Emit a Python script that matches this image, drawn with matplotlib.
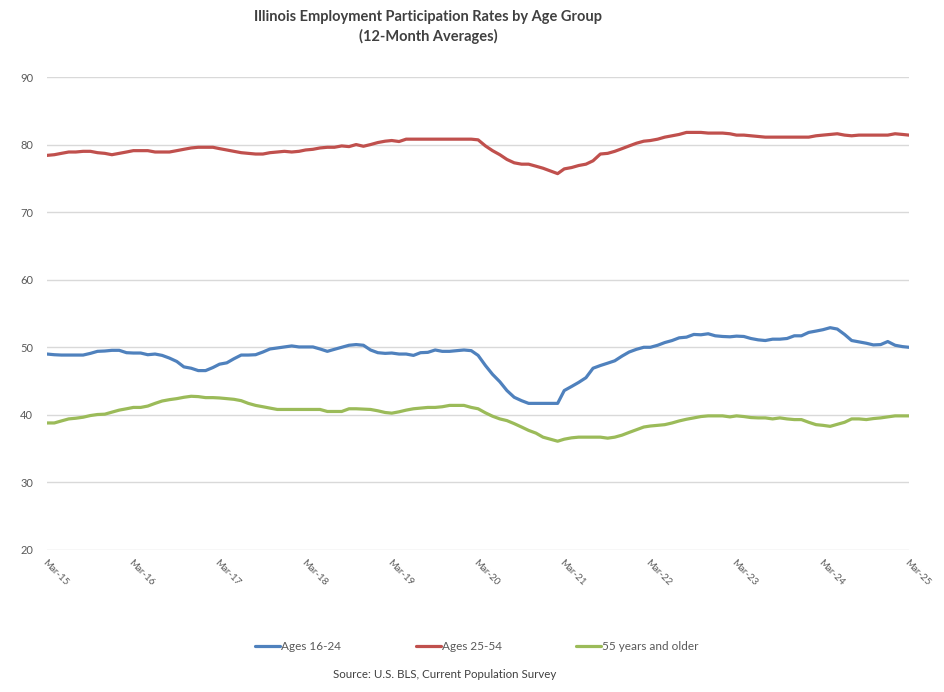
import numpy as np
import pandas as pd
import matplotlib
matplotlib.use('Agg')
import matplotlib.pyplot as plt

plt.rcParams['font.family'] = ['Lato', 'DejaVu Sans']

niceblu = "#4F81BD"
nicered = "#C0504D"
nicegrn = "#9BBB59"
txtgray = "#595959"

# monthly 12-month averages, Mar-2015 .. Mar-2025
months = pd.date_range('2015-03-01', '2025-03-01', freq='MS')

ages_16_24 = [
    49.0, 48.9, 48.85, 48.85, 48.85, 48.85, 49.1, 49.4, 49.45, 49.55, 49.55, 49.2,
    49.15, 49.15, 48.9, 49.0, 48.8, 48.4, 47.9, 47.1, 46.9, 46.55, 46.55, 47.0,
    47.5, 47.7, 48.3, 48.85, 48.85, 48.9, 49.3, 49.75, 49.9, 50.05, 50.2, 50.05,
    50.05, 50.05, 49.75, 49.4, 49.7, 50.0, 50.3, 50.4, 50.3, 49.6, 49.2, 49.1,
    49.15, 49.0, 49.0, 48.8, 49.2, 49.25, 49.6, 49.4, 49.4, 49.5, 49.6, 49.5,
    48.8, 47.3, 46.0, 44.9, 43.6, 42.6, 42.1, 41.7, 41.7, 41.7, 41.7, 41.7,
    43.6, 44.2, 44.8, 45.5, 46.9, 47.3, 47.65, 48.0, 48.7, 49.3, 49.7, 50.0,
    50.0, 50.3, 50.7, 51.0, 51.4, 51.5, 51.9, 51.85, 52.0, 51.7, 51.6, 51.55,
    51.65, 51.6, 51.3, 51.1, 51.0, 51.2, 51.2, 51.3, 51.7, 51.7, 52.2, 52.4,
    52.6, 52.9, 52.7, 51.9, 51.0, 50.8, 50.6, 50.35, 50.4, 50.85, 50.3, 50.1,
    50.0]

ages_25_54 = [
    78.4, 78.5, 78.7, 78.9, 78.9, 79.0, 79.0, 78.8, 78.7, 78.5, 78.7, 78.9,
    79.1, 79.1, 79.1, 78.9, 78.9, 78.9, 79.1, 79.3, 79.5, 79.6, 79.6, 79.6,
    79.4, 79.2, 79.0, 78.8, 78.7, 78.6, 78.6, 78.8, 78.9, 79.0, 78.9, 79.0,
    79.2, 79.3, 79.5, 79.6, 79.6, 79.8, 79.7, 80.0, 79.75, 80.0, 80.3, 80.5,
    80.6, 80.45, 80.8, 80.8, 80.8, 80.8, 80.8, 80.8, 80.8, 80.8, 80.8, 80.8,
    80.7, 79.8, 79.1, 78.5, 77.8, 77.3, 77.1, 77.1, 76.8, 76.5, 76.1, 75.7,
    76.4, 76.6, 76.9, 77.1, 77.6, 78.6, 78.7, 79.0, 79.4, 79.8, 80.2, 80.5,
    80.6, 80.8, 81.1, 81.3, 81.5, 81.8, 81.8, 81.8, 81.7, 81.7, 81.7, 81.6,
    81.4, 81.4, 81.3, 81.2, 81.1, 81.1, 81.1, 81.1, 81.1, 81.1, 81.1, 81.3,
    81.4, 81.5, 81.6, 81.4, 81.3, 81.4, 81.4, 81.4, 81.4, 81.4, 81.6, 81.5,
    81.4]

ages_55_plus = [
    38.8, 38.8, 39.1, 39.4, 39.5, 39.65, 39.9, 40.05, 40.1, 40.4, 40.7, 40.9,
    41.1, 41.1, 41.3, 41.7, 42.05, 42.25, 42.4, 42.6, 42.75, 42.7, 42.55, 42.55,
    42.5, 42.4, 42.3, 42.1, 41.7, 41.4, 41.2, 41.0, 40.8, 40.8, 40.8, 40.8,
    40.8, 40.8, 40.8, 40.5, 40.5, 40.5, 40.9, 40.9, 40.85, 40.8, 40.6, 40.35,
    40.25, 40.45, 40.7, 40.9, 41.0, 41.1, 41.1, 41.2, 41.4, 41.4, 41.4, 41.1,
    40.9, 40.3, 39.8, 39.4, 39.15, 38.7, 38.2, 37.7, 37.3, 36.7, 36.4, 36.1,
    36.4, 36.6, 36.7, 36.7, 36.7, 36.7, 36.55, 36.7, 37.0, 37.4, 37.8, 38.2,
    38.35, 38.45, 38.55, 38.8, 39.1, 39.35, 39.55, 39.75, 39.85, 39.85, 39.85, 39.7,
    39.85, 39.75, 39.6, 39.55, 39.55, 39.4, 39.55, 39.4, 39.3, 39.3, 38.9, 38.55,
    38.45, 38.3, 38.6, 38.9, 39.4, 39.4, 39.3, 39.45, 39.55, 39.7, 39.85, 39.85,
    39.85]

series_names = ['Ages 16-24', 'Ages 25-54', '55 years and older']
yticks = [20, 30, 40, 50, 60, 70, 80, 90]

fig = plt.figure(figsize=(9.45, 6.92), dpi=100)
ax = fig.add_axes([47/945, 1-550/692, (909-47)/945, (550-77)/692])

for vals, col, name in zip([ages_16_24, ages_25_54, ages_55_plus],
                           [niceblu, nicered, nicegrn], series_names):
    ax.plot(months, vals, color=col, lw=2.3, label=name, solid_capstyle='round')

ax.set_ylim(20, 90)
ax.set_xlim(months[0], months[-1])
ax.set_yticks(yticks)
ax.grid(axis='y', color='#D9D9D9', lw=1)
ax.set_axisbelow(True)
for s in ax.spines.values():
    s.set_visible(False)

xt = months[::12]
ax.set_xticks(xt)
ax.set_xticklabels([d.strftime('%b-%y') for d in xt], rotation=-45,
                   ha='left', va='top', rotation_mode='anchor')
ax.tick_params(axis='both', length=0, colors=txtgray)
ax.tick_params(axis='y', pad=10, labelsize=8)
ax.tick_params(axis='x', pad=6, labelsize=7)

fig.text(428/945, 1-17/692, 'Illinois Employment Participation Rates by Age Group',
         ha='center', va='center', fontsize=10.5, fontweight='bold', color='#404040')
fig.text(428/945, 1-36/692, '(12-Month Averages)',
         ha='center', va='center', fontsize=10.5, fontweight='bold', color='#404040')

fig.legend(loc='center', bbox_to_anchor=(477/945, 1-647/692), ncol=3,
           frameon=False, fontsize=8.5, handlelength=2.1, handletextpad=0.1,
           columnspacing=6.3, labelcolor=txtgray)

fig.text(445/945, 1-675/692, 'Source: U.S. BLS, Current Population Survey',
         ha='center', va='center', fontsize=8.3, color='#404040')

plt.savefig('out.png', dpi=100)
plt.close('all')
